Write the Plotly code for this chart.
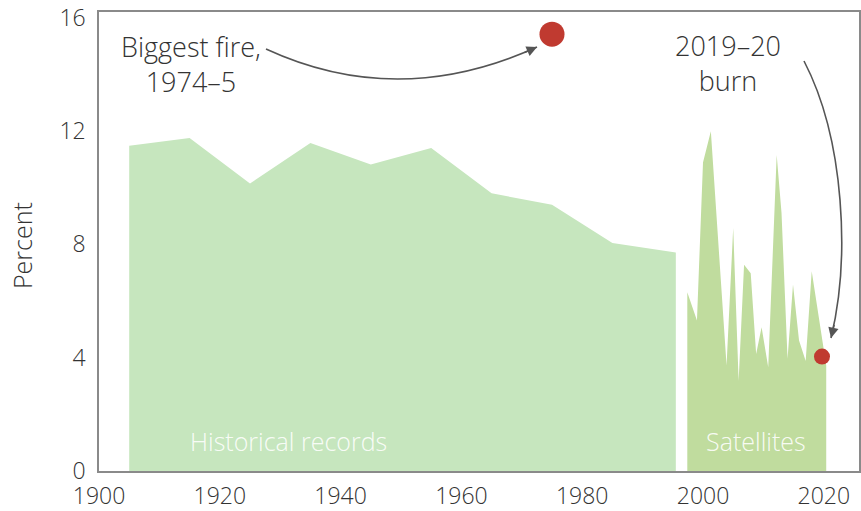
import plotly.graph_objects as go

# ---- data ----
hist_years = [1905, 1915, 1925, 1935, 1945, 1955, 1965, 1975, 1985, 1995.5]
hist_pct = [11.48, 11.75, 10.15, 11.58, 10.82, 11.4, 9.8, 9.4, 8.05, 7.71]

sat_years = [1997.4, 1999.0, 2000.0, 2001.3, 2003.9, 2005.0, 2005.9, 2006.8, 2007.9,
             2008.8, 2009.7, 2010.8, 2012.2, 2013.0, 2014.0, 2014.9, 2015.9, 2017.0,
             2018.0, 2020.4]
sat_pct = [6.31, 5.31, 10.89, 11.99, 3.72, 8.58, 3.19, 7.28, 6.98,
           4.13, 5.07, 3.66, 11.15, 9.11, 3.96, 6.58, 4.61, 3.88,
           7.05, 3.72]

fire_1974_year, fire_1974_pct = 1975.0, 15.42
burn_2019_year, burn_2019_pct = 2019.7, 4.04

x_ticks = [1900, 1920, 1940, 1960, 1980, 2000, 2020]
y_ticks = [0, 4, 8, 12, 16]

FONT = "Open Sans"
TXT = "#333333"
RED = "rgb(192,58,48)"
ARROW = "#555555"
W, H = 861, 511
ML, MR, MT, MB = 99, 2, 12, 40

fig = go.Figure()
fig.add_trace(go.Scatter(x=hist_years, y=hist_pct, fill="tozeroy", mode="lines",
                         line=dict(width=0, color="rgb(198,230,190)"),
                         fillcolor="rgb(198,230,190)", hoverinfo="skip", showlegend=False))
fig.add_trace(go.Scatter(x=sat_years, y=sat_pct, fill="tozeroy", mode="lines",
                         line=dict(width=0, color="rgb(192,220,158)"),
                         fillcolor="rgb(192,220,158)", hoverinfo="skip", showlegend=False))
fig.add_trace(go.Scatter(x=[fire_1974_year], y=[fire_1974_pct], mode="markers",
                         marker=dict(size=25, color=RED), showlegend=False))
fig.add_trace(go.Scatter(x=[burn_2019_year], y=[burn_2019_pct], mode="markers",
                         marker=dict(size=16, color=RED), showlegend=False))

# pixel -> data helpers for annotation geometry
X0 = 1900.0
X1 = 1900.0 + (W - MR - ML) / 6.04
PXY = (W - MR - ML) / (X1 - X0)
Y1 = (H - MB - MT) / 28.33
PXU = (H - MB - MT) / Y1
Y0PX = H - MB


def dx(px):
    return X0 + (px - ML) / PXY


def dy(py):
    return (Y0PX - py) / PXU


# curved arrow 1
p = [(266, 49), (398, 110), (537, 47)]
fig.add_shape(type="path", xref="x", yref="y",
              path=f"M {dx(p[0][0])},{dy(p[0][1])} Q {dx(p[1][0])},{dy(p[1][1])} {dx(p[2][0])},{dy(p[2][1])}",
              line=dict(color=ARROW, width=1.6))
fig.add_annotation(x=dx(537), y=dy(47), ax=-14, ay=6.3, xref="x", yref="y", text="",
                   showarrow=True, arrowhead=2, arrowsize=1.3, arrowwidth=1.6,
                   arrowcolor=ARROW, standoff=0)
# curved arrow 2
q = [(804, 61), (845, 140), (850, 260), (831, 338)]
fig.add_shape(type="path", xref="x", yref="y",
              path=(f"M {dx(q[0][0])},{dy(q[0][1])} C {dx(q[1][0])},{dy(q[1][1])} "
                    f"{dx(q[2][0])},{dy(q[2][1])} {dx(q[3][0])},{dy(q[3][1])}"),
              line=dict(color=ARROW, width=1.6))
fig.add_annotation(x=dx(831), y=dy(338), ax=3.5, ay=-14.6, xref="x", yref="y", text="",
                   showarrow=True, arrowhead=2, arrowsize=1.3, arrowwidth=1.6,
                   arrowcolor=ARROW, standoff=0)

BIG = dict(family=FONT, size=27, color=TXT, weight=300)
fig.add_annotation(x=dx(191), y=dy(64), text="Biggest fire,<br>1974–5", showarrow=False,
                   font=BIG, align="center")
fig.add_annotation(x=dx(728), y=dy(63), text="2019–20<br>burn", showarrow=False,
                   font=BIG, align="center")
fig.add_annotation(x=dx(288), y=dy(441), text="Historical records", showarrow=False,
                   font=dict(family=FONT, size=25, color="rgba(255,255,255,0.9)", weight=300))
fig.add_annotation(x=dx(756), y=dy(441), text="Satellites", showarrow=False,
                   font=dict(family=FONT, size=25, color="rgba(255,255,255,0.9)", weight=300))
fig.add_annotation(xref="paper", yref="paper", x=(22 - ML) / (W - ML - MR),
                   y=(Y0PX - 246) / (H - MB - MT), xanchor="center", yanchor="middle",
                   text="Percent", textangle=-90,
                   showarrow=False, font=dict(family=FONT, size=25, color=TXT, weight=300))

axis_common = dict(showline=True, linecolor="#8a8a8a", linewidth=1.5, mirror=True,
                   showgrid=False, zeroline=False, ticks="", automargin=False)
fig.update_xaxes(range=[X0, X1], tickvals=x_ticks, ticklabelstandoff=4,
                 tickfont=dict(family=FONT, size=23, color=TXT, weight=300), **axis_common)
fig.update_yaxes(range=[0, Y1], tickvals=y_ticks, ticklabelstandoff=7,
                 tickfont=dict(family=FONT, size=23, color=TXT, weight=300), **axis_common)

fig.update_layout(width=W, height=H, margin=dict(l=ML, r=MR, t=MT, b=MB, autoexpand=False),
                  plot_bgcolor="white", paper_bgcolor="white",
                  font=dict(family=FONT, color=TXT))

fig.write_html("out.html", config={"displayModeBar": False},
               post_script="document.body.style.margin='0';")
